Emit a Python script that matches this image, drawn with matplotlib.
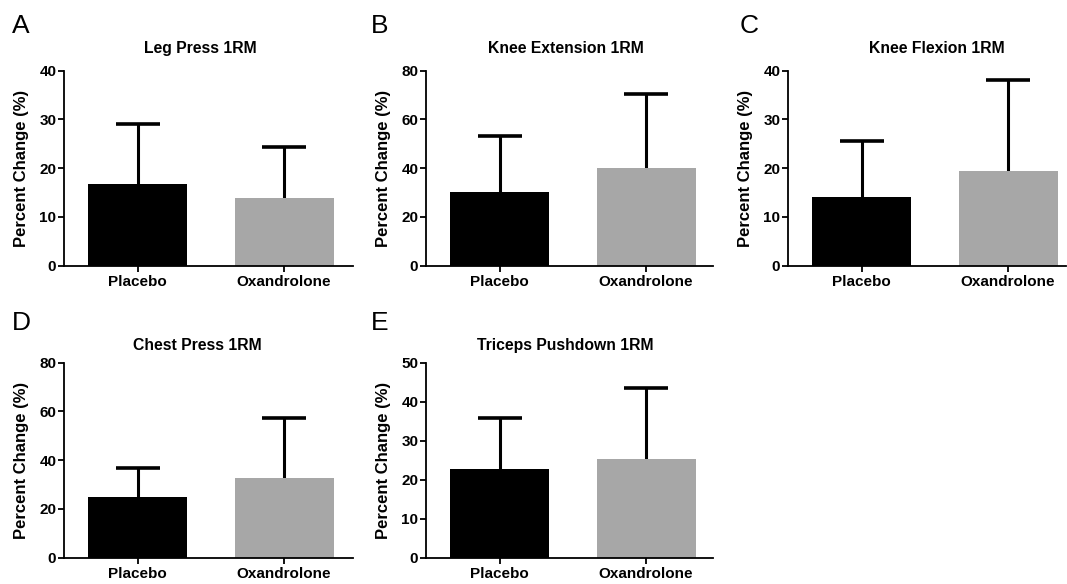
import matplotlib
matplotlib.use('Agg')
import matplotlib.pyplot as plt

# ---- data ----
groups = ['Placebo', 'Oxandrolone']
titles = ['Leg Press 1RM', 'Knee Extension 1RM', 'Knee Flexion 1RM',
          'Chest Press 1RM', 'Triceps Pushdown 1RM']
letters = ['A', 'B', 'C', 'D', 'E']
placebo_mean = [16.7, 30.4, 14.0, 24.9, 22.7]
placebo_sd = [12.4, 22.9, 11.6, 11.8, 13.2]
oxan_mean = [13.9, 40.1, 19.5, 32.6, 25.2]
oxan_sd = [10.4, 30.4, 18.6, 24.7, 18.3]
y_max = [40, 80, 40, 80, 50]
y_step = [10, 20, 10, 20, 10]
ylabel = 'Percent Change (%)'

# ---- style / layout ----
colors = ['#000000', '#a7a7a7']
W, H = 1067, 584
boxes = [(64, 70.7, 289, 195), (426, 70.7, 287, 195), (788, 70.7, 278, 195),
         (64, 362.7, 289, 195), (426, 362.7, 287, 195)]
title_xy = [(200, 53.3), (566, 53.3), (937, 53.3), (197, 350), (565, 350)]
letter_xy = [(12, 33.3), (371, 33.3), (740, 33.3), (12, 330), (371, 330)]
px_per_unit = 146.3
FONT = 'Liberation Sans'

plt.rcParams['font.family'] = [FONT, 'DejaVu Sans']

fig = plt.figure(figsize=(W / 100, H / 100), dpi=100)

for i in range(5):
    l, t, w, h = boxes[i]
    ax = fig.add_axes([l / W, 1 - (t + h) / H, w / W, h / H])
    means = [placebo_mean[i], oxan_mean[i]]
    sds = [placebo_sd[i], oxan_sd[i]]
    xs = list(range(len(groups)))
    for x, m, s, c in zip(xs, means, sds, colors):
        eb = ax.errorbar([x], [m], yerr=[[0], [s]], color='black', lw=2.2,
                         capsize=16, capthick=2.6, zorder=1)
        caps = eb[1]
        if len(caps) > 1:
            caps[0].set_visible(False)
        ax.bar([x], [m], width=0.677, color=c, zorder=2)
    ax.set_xlim(-0.504, -0.504 + w / px_per_unit)
    ax.set_ylim(0, y_max[i])
    ax.set_yticks(range(0, y_max[i] + 1, y_step[i]))
    ax.set_xticks(xs)
    ax.set_xticklabels(groups, fontsize=11, fontweight='bold')
    for lab in ax.get_yticklabels():
        lab.set_fontsize(11)
        lab.set_fontweight('bold')
    for side in ['top', 'right']:
        ax.spines[side].set_visible(False)
    for side in ['left', 'bottom']:
        ax.spines[side].set_linewidth(1.3)
    ax.tick_params(axis='both', width=1.3, length=4, color='black')
    ax.tick_params(axis='y', pad=1.5)
    ax.tick_params(axis='x', pad=3)
    ax.set_ylabel(ylabel, fontsize=12, fontweight='bold', labelpad=7.5)
    tx, ty = title_xy[i]
    fig.text(tx / W, 1 - ty / H, titles[i], ha='center', va='baseline',
             fontsize=11.3, fontweight='bold')
    lx, ly = letter_xy[i]
    fig.text(lx / W, 1 - ly / H, letters[i], ha='left', va='baseline',
             fontsize=19)

fig.savefig('out.png', dpi=100)
